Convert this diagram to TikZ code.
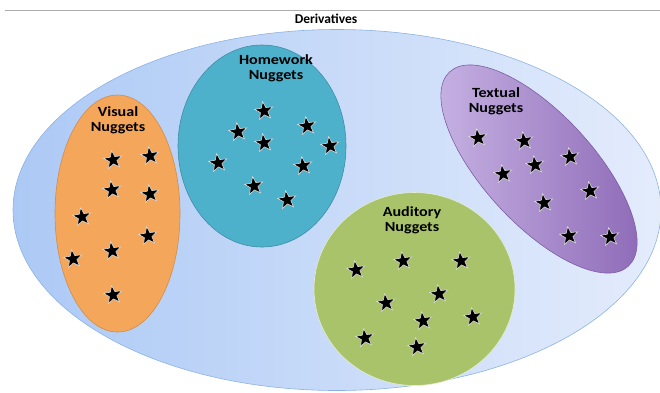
\documentclass[tikz,border=0pt]{standalone}
\usepackage{fontspec}
\setmainfont{Carlito}
\newfontfamily\nuggetfont{Carlito}[FakeStretch=1.15]
\usetikzlibrary{shapes.geometric}
\definecolor{derivleft}{RGB}{172,201,245}
\definecolor{derivright}{RGB}{228,236,252}
\definecolor{derivedge}{RGB}{141,179,226}
\definecolor{visualfill}{RGB}{244,166,91}
\definecolor{homeworkfill}{RGB}{78,177,203}
\definecolor{auditoryfill}{RGB}{169,195,107}
\definecolor{textuallight}{RGB}{200,180,228}
\definecolor{textualdark}{RGB}{140,104,182}

\begin{document}
\begin{tikzpicture}[x=1pt, y=-1pt,
  every node/.style = {inner sep=0pt},
  group/.style = {shape=ellipse, line width=0.6pt},
  label text/.style = {align=center, font=\nuggetfont\bfseries\fontsize{14}{15}\selectfont},
  nugget star/.style = {star, star points=5, star point ratio=2.4, fill=black, draw=gray!25, line width=0.6pt, minimum size=19pt, rotate=8}]
\useasboundingbox (0,0) rectangle (660,392);
\clip (0,0) rectangle (660,392);
\draw[gray!65, line width=0.8pt] (5,10) -- (660,10);
\node[group, left color=derivleft, right color=derivright, draw=derivedge, minimum width=648pt, minimum height=361pt] (deriv) at (337,210) {};
\node[font=\bfseries\fontsize{13.5}{15}\selectfont] (derivlabel) at (326,19) {Derivatives};
\node[group, fill=visualfill, draw=visualfill!85!black, minimum width=125pt, minimum height=237pt] (visual) at (117.5,213.5) {};
  \node[group, fill=homeworkfill, draw=homeworkfill!80!black, minimum width=168pt, minimum height=202pt] (homework) at (262,146) {};
  \node[group, fill=auditoryfill, draw=white!70!auditoryfill, minimum width=201pt, minimum height=193pt] (auditory) at (414.5,289) {};
  \node[group, left color=textuallight, right color=textualdark, draw=textualdark!90!black, minimum width=264pt, minimum height=110pt, rotate=-47.4] (textual) at (539,169) {};
\node[label text] (visuallabel) at (118,120) {Visual\\Nuggets};
  \node[label text] (homeworklabel) at (276,68) {Homework\\Nuggets};
  \node[label text] (textuallabel) at (496,101) {Textual\\Nuggets};
  \node[label text] (auditorylabel) at (412,220) {Auditory\\Nuggets};
\foreach \x/\y [count=\j] in {113/160,150/156,112/190,150/194,82/217,148/236,112/251,73/259,113/295}
  { \node[nugget star] (v\j) at (\x,\y) {}; }
\foreach \x/\y [count=\j] in {264/111,238/132,264/143,307/126,330/146,218/163,303/166,254/186,287/200}
  { \node[nugget star] (h\j) at (\x,\y) {}; }
\foreach \x/\y [count=\j] in {356/270,403/261,461/261,386/303,439/294,473/317,423/321,365/338,417/347}
  { \node[nugget star] (a\j) at (\x,\y) {}; }
\foreach \x/\y [count=\j] in {478/138,524/141,570/157,535/165,503/174,590/191,544/203,569/236,610/237}
  { \node[nugget star] (t\j) at (\x,\y) {}; }
\end{tikzpicture}
\end{document}
